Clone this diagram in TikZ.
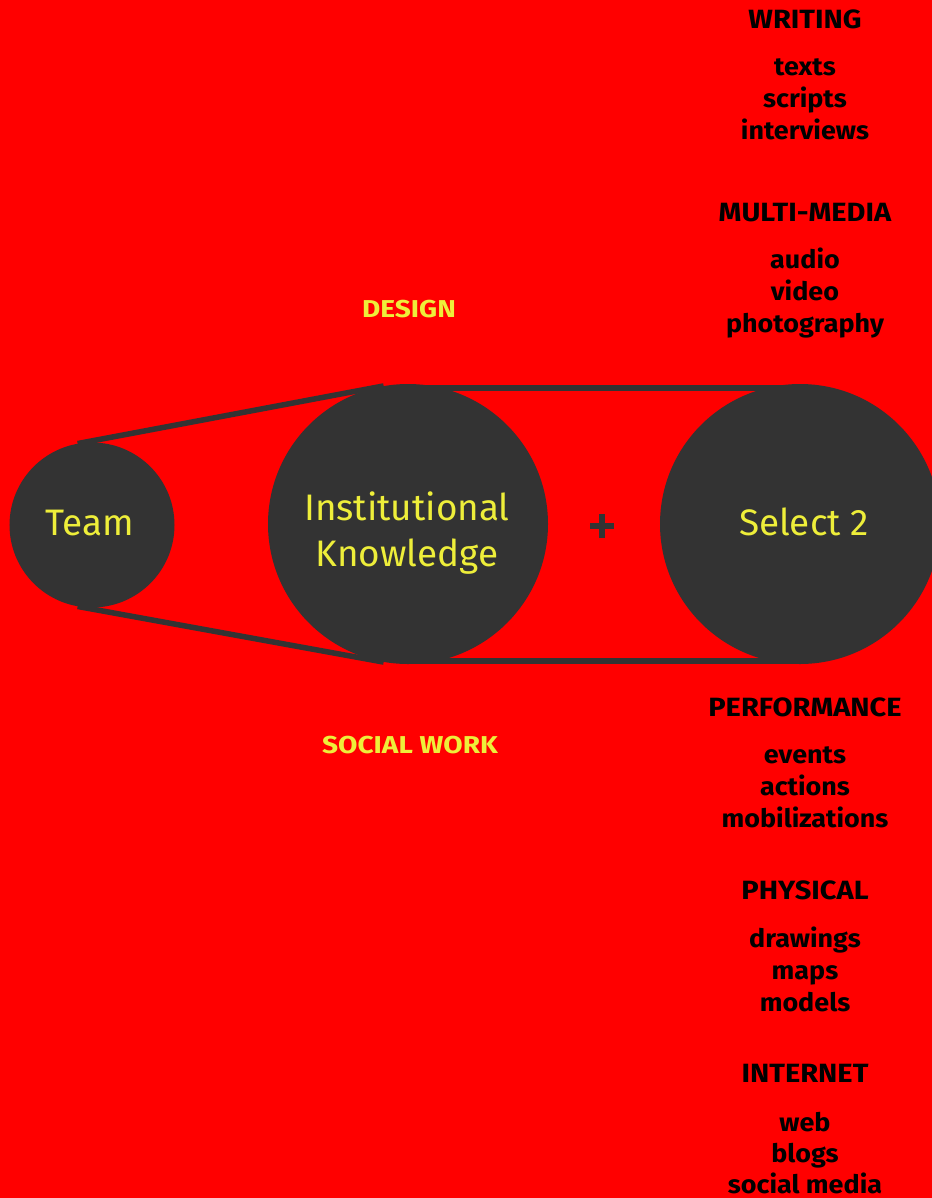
\documentclass[tikz,border=0pt]{standalone}
\usepackage{fontspec}
\setmainfont{Fira Sans}
\newfontfamily\headfont[FakeStretch=1.1]{Fira Sans}
\newfontfamily\itemfont[FakeStretch=1.06]{Fira Sans}
\newfontfamily\tagfont[FakeStretch=1.15]{Fira Sans}
\definecolor{bgred}{RGB}{255,0,0}
\definecolor{darkc}{RGB}{51,51,51}
\definecolor{yel}{RGB}{238,238,58}
\begin{document}
\begin{tikzpicture}[x=1bp,y=-1bp,
  disc/.style={circle,fill=darkc,inner sep=0pt,minimum size=#1},
  intext/.style={text=yel,font=\fontsize{37}{44}\selectfont,anchor=base,inner sep=0pt},
  tag/.style={text=yel,font=\tagfont\bfseries\fontsize{24.5}{28}\selectfont,anchor=base,inner sep=0pt},
  head/.style={text=black,font=\headfont\bfseries\fontsize{26.5}{30}\selectfont,anchor=base,inner sep=0pt},
  item/.style={text=black,font=\itemfont\bfseries\fontsize{25.5}{30}\selectfont,anchor=base,inner sep=0pt},
  belt/.style={draw=darkc,line width=5.5bp}]
\fill[bgred] (0,0) rectangle (932,1198);
\useasboundingbox (0,0) rectangle (932,1198);
\begin{scope}
\clip (0,0) rectangle (932,1198);
\node[disc=165bp] (team) at (92,525) {};
\node[disc=280bp] (ik) at (408,524) {};
\node[disc=280bp] (sel) at (800,524) {};
\draw[belt] (team.100.4) -- (ik.100.4);
\draw[belt] (team.-100.4) -- (ik.-100.4);
\draw[belt] ([yshift=-4bp]ik.north) -- ([yshift=-4bp]sel.north);
\draw[belt] ([yshift=3bp]ik.south) -- ([yshift=3bp]sel.south);
\end{scope}
\node[intext] (teamt) at (90,535) {Team};
\node[intext] (ikt1) at (407,520) {Institutional};
\node[intext] (ikt2) at (407,566) {Knowledge};
\node[intext] (selt) at (804,535) {Select 2};
\coordinate (plus) at (602,526);
\draw[darkc,line width=5.5bp] ([xshift=-12bp]plus) -- ([xshift=12bp]plus);
\draw[darkc,line width=5.5bp] ([yshift=-12bp]plus) -- ([yshift=12bp]plus);
\node[tag] (design) at (409,317) {DESIGN};
\node[tag] (social) at (410,753) {SOCIAL WORK};
\node[head] (h1) at (805,28) {WRITING};
\node[item] at (805,75) {texts};
\node[item] at (805,107) {scripts};
\node[item] at (805,139) {interviews};
\node[head] (h2) at (805,221) {MULTI-MEDIA};
\node[item] at (805,268) {audio};
\node[item] at (805,300) {video};
\node[item] at (805,332) {photography};
\node[head] (h3) at (805,716) {PERFORMANCE};
\node[item] at (805,763) {events};
\node[item] at (805,795) {actions};
\node[item] at (805,827) {mobilizations};
\node[head] (h4) at (805,899) {PHYSICAL};
\node[item] at (805,947) {drawings};
\node[item] at (805,979) {maps};
\node[item] at (805,1011) {models};
\node[head] (h5) at (805,1082) {INTERNET};
\node[item] at (805,1131) {web};
\node[item] at (805,1162) {blogs};
\node[item] at (805,1193) {social media};
\end{tikzpicture}
\end{document}
